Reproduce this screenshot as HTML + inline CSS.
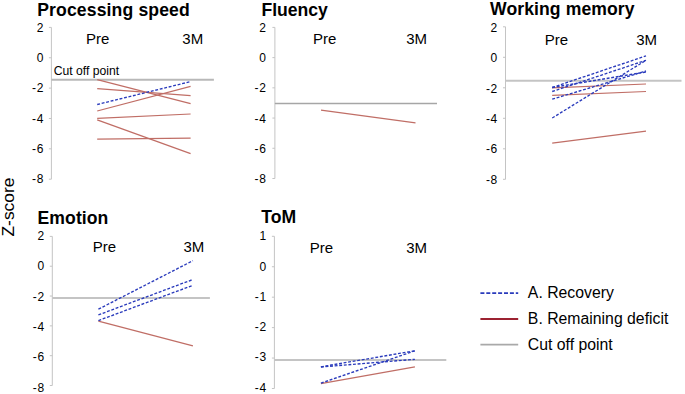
<!DOCTYPE html>
<html><head><meta charset="utf-8"><style>
html,body{margin:0;padding:0;background:#fff;width:685px;height:394px;overflow:hidden}
svg{display:block}
text{font-family:"Liberation Sans",sans-serif;fill:#000}
.tk{font-size:12.0px}
.ti{font-size:17.6px;font-weight:bold}
.pm{font-size:15.0px}
.lg{font-size:15.8px}
.co{font-size:12.2px}
.zs{font-size:17.4px}
</style></head><body>
<svg width="685" height="394" viewBox="0 0 685 394">
<line x1="51.4" y1="27.4" x2="51.4" y2="179.2" stroke="#c4c4c4" stroke-width="1"/>
<line x1="48.90" y1="27.40" x2="51.4" y2="27.40" stroke="#c4c4c4" stroke-width="1"/>
<text x="43.50" y="31.70" text-anchor="end" class="tk">2</text>
<line x1="48.90" y1="57.76" x2="51.4" y2="57.76" stroke="#c4c4c4" stroke-width="1"/>
<text x="43.50" y="62.01" text-anchor="end" class="tk">0</text>
<line x1="48.90" y1="88.12" x2="51.4" y2="88.12" stroke="#c4c4c4" stroke-width="1"/>
<text x="43.50" y="92.32" text-anchor="end" class="tk">-<tspan dx="0.7">2</tspan></text>
<line x1="48.90" y1="118.48" x2="51.4" y2="118.48" stroke="#c4c4c4" stroke-width="1"/>
<text x="43.50" y="122.63" text-anchor="end" class="tk">-<tspan dx="0.7">4</tspan></text>
<line x1="48.90" y1="148.84" x2="51.4" y2="148.84" stroke="#c4c4c4" stroke-width="1"/>
<text x="43.50" y="152.94" text-anchor="end" class="tk">-<tspan dx="0.7">6</tspan></text>
<line x1="48.90" y1="179.20" x2="51.4" y2="179.20" stroke="#c4c4c4" stroke-width="1"/>
<text x="43.50" y="183.25" text-anchor="end" class="tk">-<tspan dx="0.7">8</tspan></text>
<text x="37.22" y="15.7" class="ti" style="letter-spacing:0.13px">Processing speed</text>
<text x="86.07" y="43.6" class="pm">Pre</text>
<text x="182.33" y="43.6" class="pm">3M</text>
<line x1="51.4" y1="79.7" x2="213.9" y2="79.7" stroke="#b8b8b8" stroke-width="2"/>
<line x1="97.2" y1="79.7" x2="190.6" y2="103.6" stroke="#c06e66" stroke-width="1.25"/>
<line x1="97.2" y1="88.6" x2="190.6" y2="95.6" stroke="#c06e66" stroke-width="1.25"/>
<line x1="97.2" y1="111" x2="190.6" y2="86.3" stroke="#c06e66" stroke-width="1.25"/>
<line x1="97.2" y1="118.3" x2="190.6" y2="114" stroke="#c06e66" stroke-width="1.25"/>
<line x1="97.2" y1="119.8" x2="190.6" y2="153.6" stroke="#c06e66" stroke-width="1.25"/>
<line x1="97.2" y1="139.2" x2="190.6" y2="138.2" stroke="#c06e66" stroke-width="1.25"/>
<line x1="97.2" y1="104.5" x2="190.6" y2="81.6" stroke="#2a3bbc" stroke-width="1.35" stroke-dasharray="2.9 1.7"/>
<line x1="274.9" y1="27.4" x2="274.9" y2="178.5" stroke="#c4c4c4" stroke-width="1"/>
<line x1="272.40" y1="27.40" x2="274.9" y2="27.40" stroke="#c4c4c4" stroke-width="1"/>
<text x="265.90" y="31.80" text-anchor="end" class="tk">2</text>
<line x1="272.40" y1="57.62" x2="274.9" y2="57.62" stroke="#c4c4c4" stroke-width="1"/>
<text x="265.90" y="62.12" text-anchor="end" class="tk">0</text>
<line x1="272.40" y1="87.84" x2="274.9" y2="87.84" stroke="#c4c4c4" stroke-width="1"/>
<text x="265.90" y="92.44" text-anchor="end" class="tk">-<tspan dx="0.7">2</tspan></text>
<line x1="272.40" y1="118.06" x2="274.9" y2="118.06" stroke="#c4c4c4" stroke-width="1"/>
<text x="265.90" y="122.76" text-anchor="end" class="tk">-<tspan dx="0.7">4</tspan></text>
<line x1="272.40" y1="148.28" x2="274.9" y2="148.28" stroke="#c4c4c4" stroke-width="1"/>
<text x="265.90" y="153.08" text-anchor="end" class="tk">-<tspan dx="0.7">6</tspan></text>
<line x1="272.40" y1="178.50" x2="274.9" y2="178.50" stroke="#c4c4c4" stroke-width="1"/>
<text x="265.90" y="183.40" text-anchor="end" class="tk">-<tspan dx="0.7">8</tspan></text>
<text x="261.42" y="15.9" class="ti" style="letter-spacing:0px">Fluency</text>
<text x="313.07" y="43.8" class="pm">Pre</text>
<text x="406.23" y="43.8" class="pm">3M</text>
<line x1="274.9" y1="103.5" x2="437" y2="103.5" stroke="#a6a6a6" stroke-width="1.3"/>
<line x1="321" y1="110.2" x2="415.5" y2="122.9" stroke="#c06e66" stroke-width="1.25"/>
<line x1="505.5" y1="26.8" x2="505.5" y2="179.3" stroke="#c4c4c4" stroke-width="1"/>
<line x1="503.00" y1="26.80" x2="505.5" y2="26.80" stroke="#c4c4c4" stroke-width="1"/>
<text x="497.30" y="32.10" text-anchor="end" class="tk">2</text>
<line x1="503.00" y1="57.30" x2="505.5" y2="57.30" stroke="#c4c4c4" stroke-width="1"/>
<text x="497.30" y="62.42" text-anchor="end" class="tk">0</text>
<line x1="503.00" y1="87.80" x2="505.5" y2="87.80" stroke="#c4c4c4" stroke-width="1"/>
<text x="497.30" y="92.74" text-anchor="end" class="tk">-<tspan dx="0.7">2</tspan></text>
<line x1="503.00" y1="118.30" x2="505.5" y2="118.30" stroke="#c4c4c4" stroke-width="1"/>
<text x="497.30" y="123.06" text-anchor="end" class="tk">-<tspan dx="0.7">4</tspan></text>
<line x1="503.00" y1="148.80" x2="505.5" y2="148.80" stroke="#c4c4c4" stroke-width="1"/>
<text x="497.30" y="153.38" text-anchor="end" class="tk">-<tspan dx="0.7">6</tspan></text>
<line x1="503.00" y1="179.30" x2="505.5" y2="179.30" stroke="#c4c4c4" stroke-width="1"/>
<text x="497.30" y="183.70" text-anchor="end" class="tk">-<tspan dx="0.7">8</tspan></text>
<text x="490.08" y="15.4" class="ti" style="letter-spacing:0.08px">Working memory</text>
<text x="544.87" y="44.7" class="pm">Pre</text>
<text x="636.23" y="44.7" class="pm">3M</text>
<line x1="505.5" y1="80.8" x2="681.5" y2="80.8" stroke="#c4c4c4" stroke-width="2"/>
<line x1="552.2" y1="87.8" x2="646" y2="84" stroke="#c06e66" stroke-width="1.25"/>
<line x1="552.2" y1="95.3" x2="646" y2="91.5" stroke="#c06e66" stroke-width="1.25"/>
<line x1="552.2" y1="143.1" x2="646" y2="131.1" stroke="#c06e66" stroke-width="1.25"/>
<line x1="552.2" y1="87.5" x2="646" y2="55.9" stroke="#2a3bbc" stroke-width="1.35" stroke-dasharray="2.9 1.7"/>
<line x1="552.2" y1="91.5" x2="646" y2="60.3" stroke="#2a3bbc" stroke-width="1.35" stroke-dasharray="2.9 1.7"/>
<line x1="552.2" y1="87.5" x2="646" y2="72" stroke="#2a3bbc" stroke-width="1.35" stroke-dasharray="2.9 1.7"/>
<line x1="552.2" y1="99.2" x2="646" y2="71" stroke="#2a3bbc" stroke-width="1.35" stroke-dasharray="2.9 1.7"/>
<line x1="552.2" y1="118" x2="646" y2="60.3" stroke="#2a3bbc" stroke-width="1.35" stroke-dasharray="2.9 1.7"/>
<line x1="52.3" y1="236.4" x2="52.3" y2="385.5" stroke="#c4c4c4" stroke-width="1"/>
<line x1="49.80" y1="236.40" x2="52.3" y2="236.40" stroke="#c4c4c4" stroke-width="1"/>
<text x="44.20" y="239.80" text-anchor="end" class="tk">2</text>
<line x1="49.80" y1="266.22" x2="52.3" y2="266.22" stroke="#c4c4c4" stroke-width="1"/>
<text x="44.20" y="270.15" text-anchor="end" class="tk">0</text>
<line x1="49.80" y1="296.04" x2="52.3" y2="296.04" stroke="#c4c4c4" stroke-width="1"/>
<text x="44.20" y="300.50" text-anchor="end" class="tk">-<tspan dx="0.7">2</tspan></text>
<line x1="49.80" y1="325.86" x2="52.3" y2="325.86" stroke="#c4c4c4" stroke-width="1"/>
<text x="44.20" y="330.85" text-anchor="end" class="tk">-<tspan dx="0.7">4</tspan></text>
<line x1="49.80" y1="355.68" x2="52.3" y2="355.68" stroke="#c4c4c4" stroke-width="1"/>
<text x="44.20" y="361.20" text-anchor="end" class="tk">-<tspan dx="0.7">6</tspan></text>
<line x1="49.80" y1="385.50" x2="52.3" y2="385.50" stroke="#c4c4c4" stroke-width="1"/>
<text x="44.20" y="391.55" text-anchor="end" class="tk">-<tspan dx="0.7">8</tspan></text>
<text x="37.52" y="223.9" class="ti" style="letter-spacing:0.08px">Emotion</text>
<text x="92.87" y="251.7" class="pm">Pre</text>
<text x="183.43" y="251.7" class="pm">3M</text>
<line x1="52.3" y1="297.9" x2="209.9" y2="297.9" stroke="#c4c4c4" stroke-width="2"/>
<line x1="98.4" y1="321.2" x2="192.9" y2="345.8" stroke="#c06e66" stroke-width="1.25"/>
<line x1="98.4" y1="309.2" x2="192.9" y2="260.7" stroke="#2a3bbc" stroke-width="1.35" stroke-dasharray="2.9 1.7"/>
<line x1="98.4" y1="314.9" x2="192.9" y2="279.5" stroke="#2a3bbc" stroke-width="1.35" stroke-dasharray="2.9 1.7"/>
<line x1="98.4" y1="320.6" x2="192.9" y2="285.3" stroke="#2a3bbc" stroke-width="1.35" stroke-dasharray="2.9 1.7"/>
<line x1="274.4" y1="236.3" x2="274.4" y2="388.5" stroke="#c4c4c4" stroke-width="1"/>
<line x1="271.90" y1="236.30" x2="274.4" y2="236.30" stroke="#c4c4c4" stroke-width="1"/>
<text x="266.10" y="240.40" text-anchor="end" class="tk">1</text>
<line x1="271.90" y1="266.74" x2="274.4" y2="266.74" stroke="#c4c4c4" stroke-width="1"/>
<text x="266.10" y="270.65" text-anchor="end" class="tk">0</text>
<line x1="271.90" y1="297.18" x2="274.4" y2="297.18" stroke="#c4c4c4" stroke-width="1"/>
<text x="266.10" y="300.90" text-anchor="end" class="tk">-<tspan dx="0.7">1</tspan></text>
<line x1="271.90" y1="327.62" x2="274.4" y2="327.62" stroke="#c4c4c4" stroke-width="1"/>
<text x="266.10" y="331.15" text-anchor="end" class="tk">-<tspan dx="0.7">2</tspan></text>
<line x1="271.90" y1="358.06" x2="274.4" y2="358.06" stroke="#c4c4c4" stroke-width="1"/>
<text x="266.10" y="361.40" text-anchor="end" class="tk">-<tspan dx="0.7">3</tspan></text>
<line x1="271.90" y1="388.50" x2="274.4" y2="388.50" stroke="#c4c4c4" stroke-width="1"/>
<text x="266.10" y="391.65" text-anchor="end" class="tk">-<tspan dx="0.7">4</tspan></text>
<text x="261.30" y="223.4" class="ti" style="letter-spacing:0px">ToM</text>
<text x="309.87" y="253.4" class="pm">Pre</text>
<text x="406.23" y="253.4" class="pm">3M</text>
<line x1="274.4" y1="360" x2="446.3" y2="360" stroke="#c4c4c4" stroke-width="2"/>
<line x1="320.9" y1="383.6" x2="414.9" y2="366.9" stroke="#c06e66" stroke-width="1.25"/>
<line x1="320.9" y1="366.8" x2="414.9" y2="350.8" stroke="#2a3bbc" stroke-width="1.35" stroke-dasharray="2.9 1.7"/>
<line x1="320.9" y1="367" x2="414.9" y2="359.3" stroke="#2a3bbc" stroke-width="1.35" stroke-dasharray="2.9 1.7"/>
<line x1="320.9" y1="383.2" x2="414.9" y2="350.8" stroke="#2a3bbc" stroke-width="1.35" stroke-dasharray="2.9 1.7"/>

<line x1="480.4" y1="293.05" x2="518.2" y2="293.05" stroke="#2a3bbc" stroke-width="1.8" stroke-dasharray="4 1.9"/>
<text x="527.87" y="298.3" class="lg">A. Recovery</text>
<line x1="480.4" y1="319" x2="518.2" y2="319" stroke="#9c2231" stroke-width="1.8"/>
<text x="527.87" y="323.9" class="lg">B. Remaining deficit</text>
<line x1="480.4" y1="344.6" x2="518.2" y2="344.6" stroke="#a9a9a9" stroke-width="1.8"/>
<text x="527.87" y="349.8" class="lg">Cut off point</text>
<text x="53.68" y="74.8" class="co">Cut off point</text>
<text transform="translate(14.4,236.5) rotate(-90)" class="zs">Z-score</text>

</svg>
</body></html>
